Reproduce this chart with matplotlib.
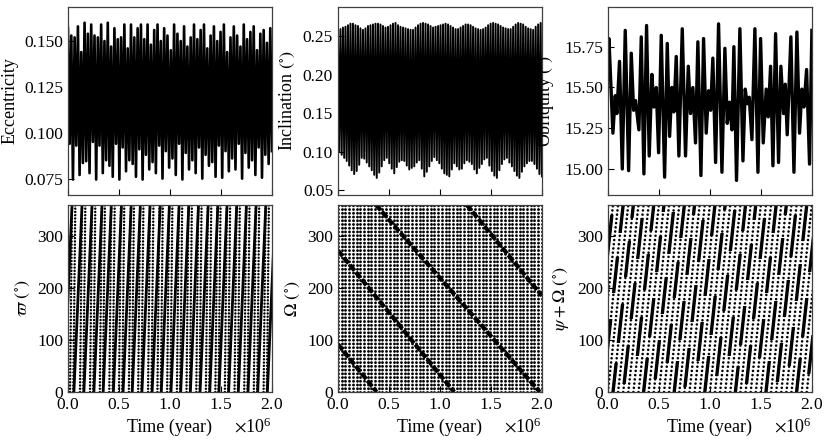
import numpy as np
import matplotlib
matplotlib.use("Agg")
import matplotlib.pyplot as plt
from matplotlib.patches import Rectangle

# ==========================================
# DATA (time in units of 1e6 yr)
# ==========================================
# eccentricity: successive maxima / minima of the fast oscillation
ECC_MAX = [0.157, 0.153, 0.152, 0.158, 0.144, 0.160, 0.154, 0.159, 0.153, 0.152,
           0.159, 0.150, 0.160, 0.147, 0.157, 0.151, 0.152, 0.159, 0.146, 0.159,
           0.152, 0.157, 0.159, 0.151, 0.159, 0.148, 0.156, 0.159, 0.150, 0.157,
           0.153, 0.145, 0.159, 0.154, 0.150, 0.158, 0.147, 0.152, 0.159, 0.151,
           0.156, 0.159, 0.146, 0.153, 0.158, 0.150, 0.155, 0.159, 0.144, 0.152,
           0.158, 0.153, 0.147, 0.159, 0.151, 0.155, 0.158, 0.145, 0.154, 0.156,
           0.149, 0.157]
ECC_MIN = [0.094, 0.0745, 0.093, 0.077, 0.0835, 0.0845, 0.078, 0.095, 0.0745, 0.093,
           0.078, 0.085, 0.082, 0.076, 0.094, 0.0745, 0.092, 0.079, 0.085, 0.083,
           0.076, 0.091, 0.0745, 0.088, 0.080, 0.084, 0.078, 0.093, 0.075, 0.090,
           0.081, 0.086, 0.077, 0.094, 0.0745, 0.089, 0.080, 0.085, 0.078, 0.092,
           0.075, 0.088, 0.082, 0.084, 0.076, 0.093, 0.0755, 0.090, 0.079, 0.086,
           0.080, 0.094, 0.075, 0.089, 0.081, 0.085, 0.077, 0.092, 0.0755, 0.088,
           0.083, 0.090]

# inclination (deg): maxima / minima of the fast oscillation
INC_MAX = [0.258, 0.259, 0.261, 0.262, 0.264, 0.266, 0.266, 0.264, 0.263, 0.260,
           0.258, 0.260, 0.263, 0.264, 0.265, 0.266, 0.266, 0.265, 0.263, 0.261,
           0.262, 0.264, 0.266, 0.267, 0.264, 0.262, 0.261, 0.260, 0.259, 0.258,
           0.258, 0.261, 0.264, 0.266, 0.267, 0.266, 0.265, 0.263, 0.261, 0.262,
           0.263, 0.264, 0.265, 0.266, 0.265, 0.263, 0.261, 0.259, 0.259, 0.261,
           0.263, 0.265, 0.265, 0.264, 0.262, 0.260, 0.259, 0.258, 0.259, 0.261,
           0.264, 0.266, 0.267, 0.266, 0.265, 0.263, 0.261, 0.260, 0.259, 0.259,
           0.262, 0.265, 0.267, 0.266, 0.265, 0.262, 0.260, 0.259, 0.258, 0.262,
           0.265, 0.267]
INC_MIN = [0.100, 0.096, 0.092, 0.088, 0.082, 0.076, 0.071, 0.075, 0.083, 0.092,
           0.091, 0.086, 0.081, 0.076, 0.070, 0.066, 0.073, 0.081, 0.089, 0.092,
           0.085, 0.078, 0.072, 0.080, 0.087, 0.089, 0.088, 0.082, 0.077, 0.079,
           0.081, 0.086, 0.089, 0.078, 0.068, 0.074, 0.081, 0.088, 0.093, 0.089,
           0.085, 0.078, 0.072, 0.070, 0.068, 0.077, 0.085, 0.081, 0.077, 0.078,
           0.085, 0.089, 0.087, 0.084, 0.077, 0.072, 0.079, 0.084, 0.090, 0.092,
           0.082, 0.075, 0.069, 0.066, 0.076, 0.084, 0.090, 0.092, 0.086, 0.081,
           0.075, 0.069, 0.066, 0.074, 0.081, 0.085, 0.088, 0.088, 0.084, 0.078,
           0.071, 0.068]

# obliquity (deg): turning points of the curve
OBL_T = [0.000, 0.010, 0.049, 0.072, 0.088, 0.114, 0.141, 0.170, 0.203, 0.229,
         0.252, 0.271, 0.304, 0.327, 0.353, 0.379, 0.405, 0.431, 0.451, 0.474,
         0.497, 0.523, 0.556, 0.582, 0.605, 0.627, 0.647, 0.670, 0.696, 0.729,
         0.761, 0.788, 0.810, 0.833, 0.859, 0.882, 0.912, 0.938, 0.964, 0.987,
         1.007, 1.029, 1.056, 1.085, 1.118, 1.147, 1.170, 1.193, 1.216, 1.235,
         1.261, 1.294, 1.324, 1.346, 1.366, 1.386, 1.412, 1.441, 1.471, 1.497,
         1.523, 1.552, 1.572, 1.595, 1.618, 1.644, 1.673, 1.696, 1.722, 1.739,
         1.758, 1.794, 1.824, 1.853, 1.879, 1.902, 1.922, 1.948, 1.977, 2.000]
OBL_V = [15.55, 15.80, 15.22, 15.45, 15.34, 15.66, 15.00, 15.85, 14.99, 15.71,
         15.36, 15.42, 15.24, 15.81, 14.97, 15.88, 15.08, 15.58, 15.38, 15.50,
         15.10, 15.82, 14.95, 15.77, 15.20, 15.50, 15.35, 15.69, 15.08, 15.86,
         15.08, 15.63, 15.34, 15.50, 15.16, 15.78, 14.96, 15.80, 15.22, 15.48,
         15.36, 15.68, 15.04, 15.89, 14.98, 15.74, 15.28, 15.41, 15.24, 15.75,
         14.93, 15.86, 15.05, 15.49, 15.40, 15.44, 15.18, 15.86, 14.98, 15.80,
         15.16, 15.49, 15.32, 15.63, 15.02, 15.83, 15.04, 15.63, 15.34, 15.52,
         15.21, 15.81, 14.98, 15.84, 15.22, 15.49, 15.38, 15.61, 15.03, 15.85]

# longitude of pericentre: dense stripes (time at 0 deg / at 360 deg)
VARPI_T0 = [-0.040, 0.058, 0.156, 0.254, 0.345, 0.445, 0.540, 0.630, 0.725, 0.825, 0.915,
            1.010, 1.105, 1.200, 1.295, 1.390, 1.480, 1.575, 1.670, 1.765, 1.860, 1.955]
VARPI_T1 = [0.040, 0.138, 0.236, 0.334, 0.425, 0.525, 0.620, 0.710, 0.805, 0.905, 0.995,
            1.090, 1.185, 1.280, 1.375, 1.470, 1.560, 1.655, 1.750, 1.845, 1.940, 2.035]
# dotted sample columns between the stripes (time at 0 deg / at 360 deg)
VARPI_DOT_T0 = [0.020, 0.052, 0.118, 0.150, 0.216, 0.248, 0.312, 0.342, 0.405, 0.438,
                0.500, 0.532, 0.597, 0.627, 0.688, 0.720, 0.785, 0.818, 0.877, 0.910,
                0.972, 1.004, 1.068, 1.100, 1.162, 1.195, 1.258, 1.290, 1.352, 1.385,
                1.445, 1.476, 1.538, 1.570, 1.633, 1.665, 1.728, 1.760, 1.822, 1.855,
                1.918, 1.950]
VARPI_DOT_T1 = [0.040, 0.072, 0.138, 0.170, 0.236, 0.268, 0.332, 0.362, 0.425, 0.458,
                0.520, 0.552, 0.617, 0.647, 0.708, 0.740, 0.805, 0.838, 0.897, 0.930,
                0.992, 1.024, 1.088, 1.120, 1.182, 1.215, 1.278, 1.310, 1.372, 1.405,
                1.465, 1.496, 1.558, 1.590, 1.653, 1.685, 1.748, 1.780, 1.842, 1.875,
                1.938, 1.970]

# longitude of node: sampled columns and the slow regressing bands
OMEGA_COLS = [0.000, 0.036, 0.073, 0.109, 0.145, 0.182, 0.218, 0.255, 0.291, 0.327,
              0.364, 0.400, 0.436, 0.473, 0.509, 0.545, 0.582, 0.618, 0.655, 0.691,
              0.727, 0.764, 0.800, 0.836, 0.873, 0.909, 0.945, 0.982, 1.018, 1.055,
              1.091, 1.127, 1.164, 1.200, 1.236, 1.273, 1.309, 1.345, 1.382, 1.418,
              1.455, 1.491, 1.527, 1.564, 1.600, 1.636, 1.673, 1.709, 1.745, 1.782,
              1.818, 1.855, 1.891, 1.927, 1.964, 2.000]
OMEGA_BAND_T0 = [0.00, 0.00, 0.37, 1.26]
OMEGA_BAND_A0 = [272, 92, 360, 360]
OMEGA_BAND_T1 = [1.14, 0.38, 1.98, 2.00]
OMEGA_BAND_A1 = [0, 0, 0, 185]

# psi + Omega: slanted sample tracks (time at 0 deg / at 360 deg)
PSI_T0 = [-0.200, -0.150, -0.100, -0.050, 0.000, 0.050, 0.100, 0.150, 0.200, 0.250,
          0.300, 0.350, 0.400, 0.450, 0.500, 0.550, 0.600, 0.650, 0.700, 0.750,
          0.800, 0.850, 0.900, 0.950, 1.000, 1.050, 1.100, 1.150, 1.200, 1.250,
          1.300, 1.350, 1.400, 1.450, 1.500, 1.550, 1.600, 1.650, 1.700, 1.750,
          1.800, 1.850, 1.900, 1.950]
PSI_T1 = [0.000, 0.050, 0.100, 0.150, 0.200, 0.250, 0.300, 0.350, 0.400, 0.450,
          0.500, 0.550, 0.600, 0.650, 0.700, 0.750, 0.800, 0.850, 0.900, 0.950,
          1.000, 1.050, 1.100, 1.150, 1.200, 1.250, 1.300, 1.350, 1.400, 1.450,
          1.500, 1.550, 1.600, 1.650, 1.700, 1.750, 1.800, 1.850, 1.900, 1.950,
          2.000, 2.050, 2.100, 2.150]
# dense (thick) stretches along those tracks: track index, low / high angle
PSI_THICK_IDX = [1, 1, 1, 3, 3, 3, 5, 5, 5, 5, 7, 7, 7, 9, 9, 9,
                 11, 11, 11, 11, 13, 13, 13, 15, 15, 15, 17, 17, 17, 17,
                 19, 19, 19, 21, 21, 21, 23, 23, 23, 23, 25, 25, 25,
                 27, 27, 27, 29, 29, 29, 29, 31, 31, 31, 33, 33, 33,
                 35, 35, 35, 35, 37, 37, 37, 39, 39, 39, 41, 41, 41, 41,
                 43, 43, 43]
PSI_THICK_LO = [20, 145, 260, 65, 190, 305, 0, 95, 220, 335, 15, 140, 255, 70, 195, 310,
                0, 105, 230, 345, 25, 150, 265, 55, 180, 295, 0, 100, 225, 340,
                10, 135, 250, 60, 185, 300, 0, 110, 235, 350, 30, 155, 270,
                70, 195, 310, 0, 90, 215, 330, 15, 140, 255, 65, 190, 305,
                0, 100, 225, 340, 20, 145, 260, 50, 175, 290, 0, 105, 230, 345,
                35, 160, 275]
PSI_THICK_HI = [95, 215, 340, 140, 260, 360, 55, 170, 290, 360, 90, 210, 335, 145, 265, 360,
                65, 180, 300, 360, 100, 220, 345, 130, 250, 360, 60, 175, 295, 360,
                85, 205, 330, 135, 255, 360, 70, 185, 305, 360, 105, 225, 350,
                145, 265, 360, 50, 165, 285, 360, 90, 210, 335, 140, 260, 360,
                60, 175, 295, 360, 95, 215, 340, 125, 245, 360, 65, 180, 300, 360,
                110, 230, 355]

YR = 1e6

# ==========================================
# STYLE
# ==========================================
plt.rcParams["font.family"] = "serif"
plt.rcParams["font.serif"] = ["Liberation Serif", "DejaVu Serif"]
plt.rcParams["mathtext.fontset"] = "stix"
plt.rcParams["font.size"] = 13

fig, axes = plt.subplots(2, 3, figsize=(8.31, 4.43), dpi=100)
fig.subplots_adjust(left=0.0818, right=0.977, top=0.984, bottom=0.115,
                    wspace=0.3235, hspace=0.053)


def zigzag(maxima, minima):
    y = np.empty(2 * len(maxima))
    y[0::2] = maxima
    y[1::2] = minima
    t = np.linspace(0, 2.0, len(y)) * YR
    return t, y


def dotted(ax, t0, t1, lw=2.1, gap=1.27):
    ax.plot([t0 * YR, t1 * YR], [0, 360], color="k", lw=lw,
            linestyle=(0, (0.01, gap)), dash_capstyle="round")


# -- top row
ax = axes[0, 0]
t, y = zigzag(ECC_MAX, ECC_MIN)
ax.plot(t, y, color="k", lw=1.9)
ax.set_ylim(0.0663, 0.1685)
ax.set_yticks([0.075, 0.100, 0.125, 0.150])
ax.set_ylabel("Eccentricity")

ax = axes[0, 1]
t, y = zigzag(INC_MAX, INC_MIN)
ax.plot(t, y, color="k", lw=1.4)
ax.set_ylim(0.0444, 0.2875)
ax.set_yticks([0.05, 0.10, 0.15, 0.20, 0.25])
ax.set_ylabel(r"Inclination $(^{\circ})$")

ax = axes[0, 2]
ax.plot(np.array(OBL_T) * YR, OBL_V, color="k", lw=2.4, solid_joinstyle="round")
ax.set_ylim(14.843, 15.993)
ax.set_yticks([15.00, 15.25, 15.50, 15.75])
ax.set_ylabel(r"Obliquity $(^{\circ})$", labelpad=6)

# -- bottom row
ax = axes[1, 0]
for t0, t1 in zip(VARPI_DOT_T0, VARPI_DOT_T1):
    dotted(ax, t0, t1, lw=1.8, gap=1.3)
for t0, t1 in zip(VARPI_T0, VARPI_T1):
    ax.plot([t0 * YR, t1 * YR], [0, 360], color="k", lw=2.0)
ax.set_ylabel(r"$\varpi$ $(^{\circ})$")

ax = axes[1, 1]
for tc in OMEGA_COLS:
    dotted(ax, tc, tc)
for t0, a0, t1, a1 in zip(OMEGA_BAND_T0, OMEGA_BAND_A0, OMEGA_BAND_T1, OMEGA_BAND_A1):
    ax.plot([t0 * YR, t1 * YR], [a0, a1], color="k", lw=3.0,
            linestyle=(0, (1.8, 0.45)))
ax.set_ylabel(r"$\Omega$ $(^{\circ})$")

ax = axes[1, 2]
for t0, t1 in zip(PSI_T0, PSI_T1):
    dotted(ax, t0, t1, lw=1.9, gap=1.6)
for idx, lo, hi in zip(PSI_THICK_IDX, PSI_THICK_LO, PSI_THICK_HI):
    line, = ax.plot([PSI_T0[idx] * YR, PSI_T1[idx] * YR], [0, 360], color="k", lw=2.4)
    line.set_clip_path(Rectangle((0, lo), 2 * YR, hi - lo, transform=ax.transData))
ax.set_ylabel(r"$\psi+\Omega$ $(^{\circ})$")

for ax in axes[1]:
    ax.set_ylim(0, 360)
    ax.set_yticks([0, 100, 200, 300])
    ax.set_xlabel("Time (year)")

for ax in axes.flat:
    ax.set_xlim(0, 2 * YR)
    ax.set_xticks([0, 0.5 * YR, 1.0 * YR, 1.5 * YR, 2.0 * YR])
    ax.ticklabel_format(axis="x", style="sci", scilimits=(0, 0), useMathText=True)
    ax.tick_params(direction="in", top=False, right=False, length=4, width=0.8,
                   labelsize=12.5)
    for sp in ax.spines.values():
        sp.set_color("0.25")
        sp.set_linewidth(0.9)

for ax in axes[0]:
    ax.tick_params(labelbottom=False)
    ax.xaxis.get_offset_text().set_visible(False)

plt.savefig("out.png", dpi=100)
plt.close()
